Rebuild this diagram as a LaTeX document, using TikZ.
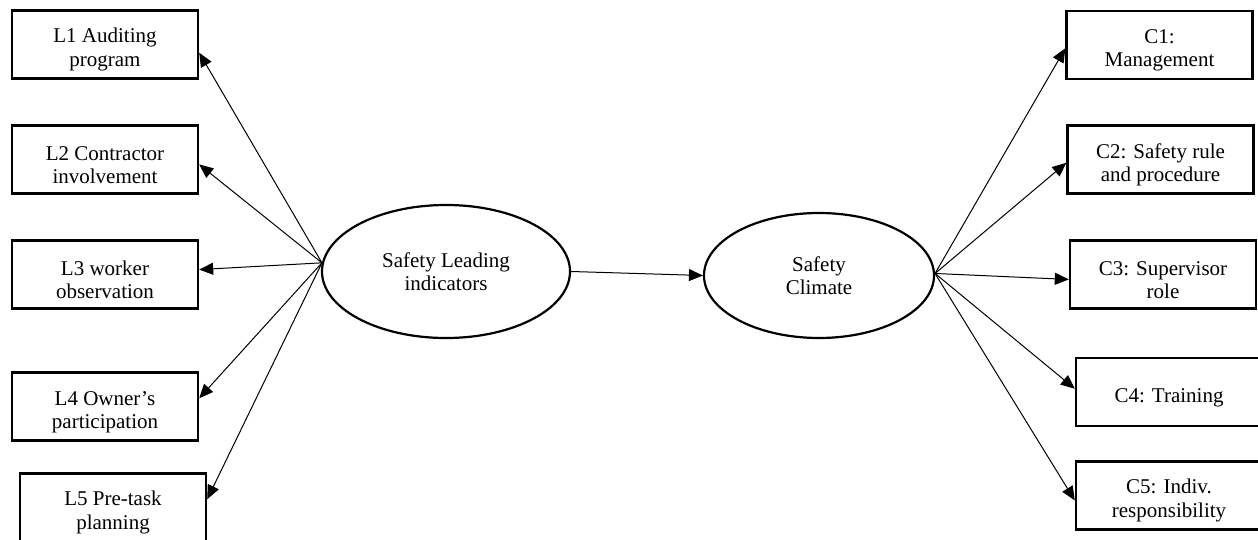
\documentclass[tikz,border=0pt]{standalone}
\usepackage{fontspec}
\setmainfont{Liberation Serif}
\usetikzlibrary{shapes.geometric,arrows.meta}
\newcommand\boxtopstrut{\rule{0pt}{25pt}}
\tikzset{
  box/.style={draw, rectangle, line width=2.4pt, minimum width=186pt, minimum height=68pt,
    inner sep=0pt, align=center, font=\fontsize{21}{23.5}\selectfont},
  oval/.style={draw, ellipse, line width=2.2pt, inner sep=0pt, align=center,
    font=\fontsize{21}{23.5}\selectfont},
  link/.style={line width=1pt, -{Triangle[length=14pt,width=12pt]}}
}
\begin{document}
\begin{tikzpicture}[x=1pt,y=-1pt]
\clip (0,0) rectangle (1258,540);
% latent constructs
\node[oval, minimum width=248pt, minimum height=133pt] (E1) at (446,271.5) {Safety Leading\\indicators};
\node[oval, minimum width=230pt, minimum height=125pt] (E2) at (819,275.5) {Safety\\Climate};
% leading indicators
\node[box] (L1) at (105,44.5) {\boxtopstrut L1 Auditing\\program};
\node[box] (L2) at (105,159.5) {\boxtopstrut L2 Contractor\\involvement};
\node[box] (L3) at (105,274.5) {\boxtopstrut L3 worker\\observation};
\node[box] (L4) at (105,406.5) {\boxtopstrut L4 Owner’s\\participation};
\node[box] (L5) at (113,507.5) {\boxtopstrut L5 Pre-task\\planning};
% climate dimensions
\node[box] (C1) at (1159.5,45) {\boxtopstrut C1:\\Management};
\node[box] (C2) at (1160.5,159.5) {\boxtopstrut C2: Safety rule\\and procedure};
\node[box] (C3) at (1163,274.5) {\boxtopstrut C3: Supervisor\\role};
\node[box] (C4) at (1169,392) {\boxtopstrut C4: Training};
\node[box] (C5) at (1169,495.5) {\boxtopstrut C5: Indiv.\\responsibility};
% connectors
\draw[link] (E1.176) -- (L1.-5);
\draw[link] (E1.176) -- (L2.-3);
\draw[link] (E1.176) -- (L3.3);
\draw[link] (E1.176) -- (L4.5);
\draw[link] (E1.176) -- (L5.5);
\draw[link] (E1.east) -- (E2.west);
\draw[link] (E2.1) -- (C1.182);
\draw[link] (E2.1) -- (C2.182);
\draw[link] (E2.1) -- (C3.183);
\draw[link] (E2.1) -- (C4.178);
\draw[link] (E2.1) -- (C5.183);
\end{tikzpicture}
\end{document}
